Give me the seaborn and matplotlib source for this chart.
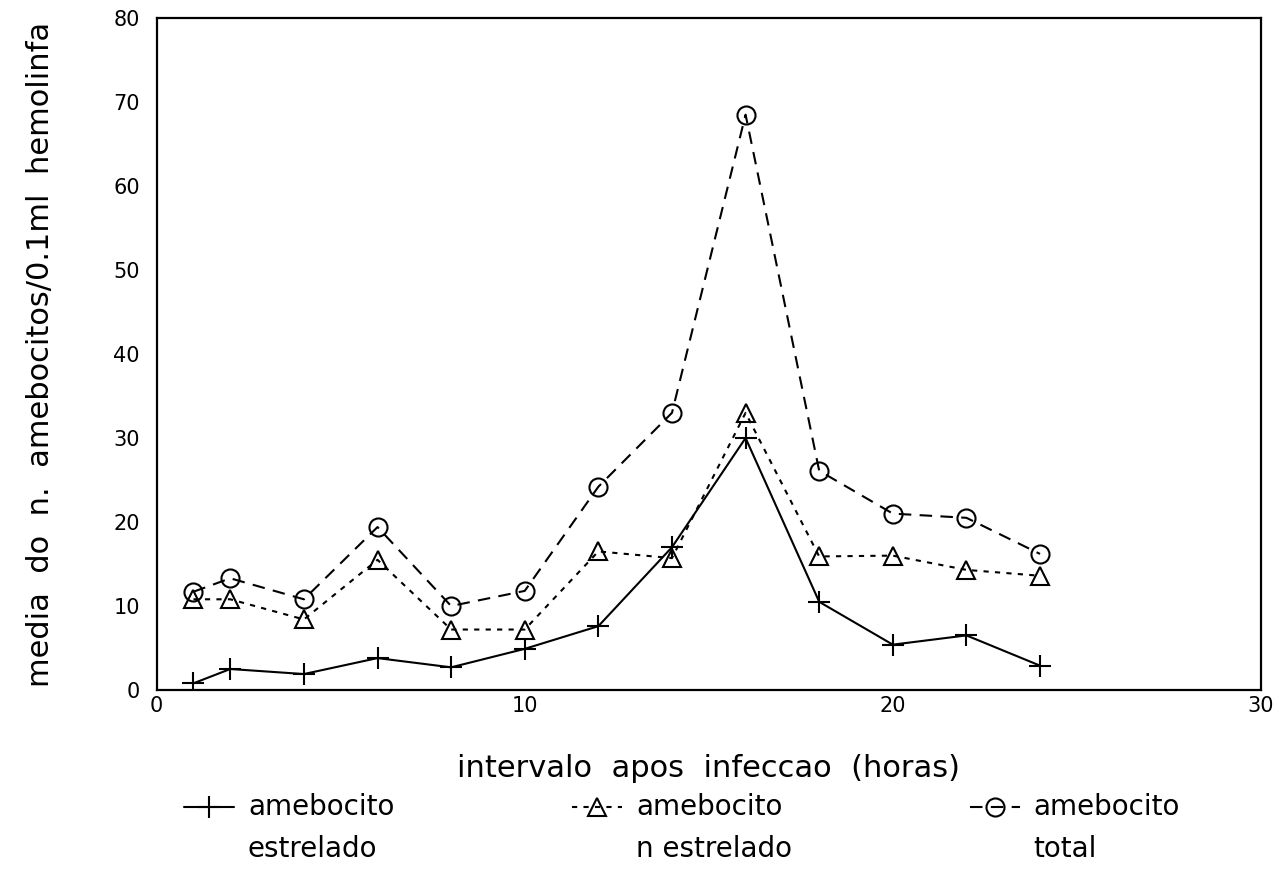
import matplotlib
matplotlib.use("Agg")
import matplotlib.pyplot as plt
from matplotlib.legend_handler import HandlerLine2D
from matplotlib.transforms import Affine2D
import numpy as np
import pandas as pd
import seaborn as sns

# Hours after infection
horas = [1, 2, 4, 6, 8, 10, 12, 14, 16, 18, 20, 22, 24]

# Mean number of amebocytes per 0.1 ml haemolymph
estrelado = [0.8, 2.5, 1.9, 3.8, 2.7, 4.9, 7.6, 17.0, 30.0, 10.5, 5.4, 6.5, 2.9]
n_estrelado = [10.8, 10.8, 8.4, 15.5, 7.2, 7.2, 16.5, 15.7, 33.0, 15.9, 16.0, 14.3, 13.6]
total = [11.7, 13.3, 10.8, 19.4, 10.0, 11.8, 24.2, 33.0, 68.5, 26.1, 21.0, 20.5, 16.2]

x_ticks = [0, 10, 20, 30]
y_ticks = [0, 10, 20, 30, 40, 50, 60, 70, 80]

series_labels = ["amebocito\nestrelado", "amebocito\nn estrelado", "amebocito\ntotal"]

sns.set_theme(style="white")
plt.rcParams["font.family"] = ["DejaVu Sans"]
plt.rcParams["text.color"] = "black"


class FirstLineHandler(HandlerLine2D):
    """Legend handler that lines the sample up with the first row of a two-row label."""

    def __init__(self, lift=16, **kw):
        super().__init__(**kw)
        self.lift = lift

    def create_artists(self, legend, orig_handle, xdescent, ydescent, width,
                       height, fontsize, trans):
        arts = super().create_artists(legend, orig_handle, xdescent, ydescent,
                                      width, height, fontsize, trans)
        shift = Affine2D().translate(0, self.lift)
        for a in arts:
            a.set_transform(shift + trans)
        return arts


df = pd.DataFrame({
    "horas": horas,
    "estrelado": estrelado,
    "n_estrelado": n_estrelado,
    "total": total,
})

fig = plt.figure(figsize=(12.81, 8.8), dpi=100)
ax = fig.add_axes([0.1223, 0.2159, 0.8620, 0.7636])

common = dict(color="black", linewidth=1.5, markersize=13, markeredgewidth=1.5,
              markeredgecolor="black", errorbar=None, ax=ax)

sns.lineplot(data=df, x="horas", y="estrelado", marker="+", linestyle="-",
             markersize=16, **{k: v for k, v in common.items() if k != "markersize"},
             label=series_labels[0])
sns.lineplot(data=df, x="horas", y="n_estrelado", marker="^", linestyle=(0, (2.5, 3)),
             markerfacecolor="none", label=series_labels[1], **common)
sns.lineplot(data=df, x="horas", y="total", marker="o", linestyle=(0, (6, 4)),
             markerfacecolor="none", label=series_labels[2], **common)

ax.set_xlim(0, 30)
ax.set_ylim(0, 80)
ax.set_xticks(x_ticks)
ax.set_yticks(y_ticks)
ax.tick_params(axis="y", direction="in", length=12, width=1.5, pad=12,
               labelsize=15, colors="black")
ax.tick_params(axis="x", direction="in", length=11, width=1.5, pad=4,
               labelsize=15, colors="black")

for s in ax.spines.values():
    s.set_visible(True)
    s.set_color("black")
    s.set_linewidth(1.6)

ax.set_xlabel("intervalo  apos  infeccao  (horas)", fontsize=22, labelpad=28,
              color="black")
ax.set_ylabel("media  do  n.  amebocitos/0.1ml  hemolinfa", fontsize=22,
              labelpad=42, color="black")

ax.legend_.remove()
handles, labels = ax.get_legend_handles_labels()
leg = fig.legend(handles, labels, loc="upper left", bbox_to_anchor=(0.135, 0.112),
                 ncol=3, frameon=False, fontsize=20, handlelength=1.8,
                 handletextpad=0.5, columnspacing=6.4, borderaxespad=0,
                 labelcolor="black",
                 handler_map={h: FirstLineHandler(lift=16) for h in handles})
for t in leg.get_texts():
    t.set_linespacing(1.65)

fig.savefig("out.png", dpi=100, facecolor="white")
